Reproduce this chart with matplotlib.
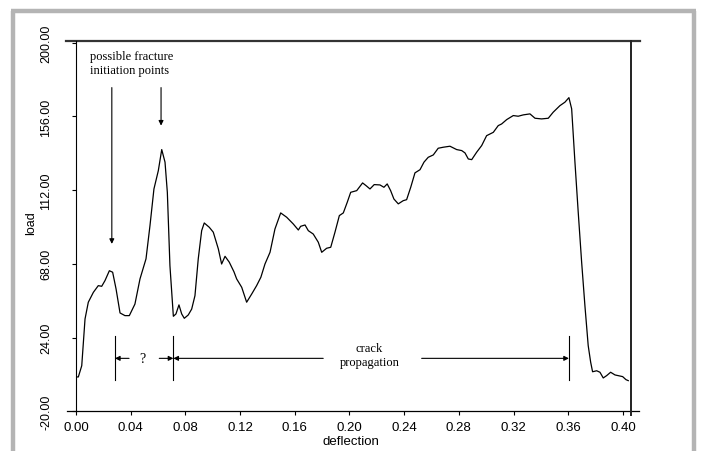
import matplotlib
matplotlib.use("Agg")
import matplotlib.pyplot as plt
from matplotlib.lines import Line2D

# --- digitised load / deflection trace ---------------------------------
defl = [0.0000, 0.0017, 0.0042, 0.0066, 0.0090, 0.0127, 0.0163, 0.0188, 0.0212, 0.0244,
        0.0268, 0.0293, 0.0322, 0.0358, 0.0390, 0.0431, 0.0468, 0.0512, 0.0541, 0.0570,
        0.0602, 0.0627, 0.0651, 0.0668, 0.0687, 0.0712, 0.0731, 0.0753, 0.0773, 0.0792,
        0.0821, 0.0846, 0.0870, 0.0894, 0.0919, 0.0938, 0.0975, 0.1004, 0.1041, 0.1065,
        0.1090, 0.1121, 0.1155, 0.1175, 0.1212, 0.1248, 0.1285, 0.1321, 0.1352, 0.1382,
        0.1419, 0.1455, 0.1497, 0.1541, 0.1589, 0.1626, 0.1643, 0.1675, 0.1699, 0.1735,
        0.1772, 0.1797, 0.1833, 0.1863, 0.1894, 0.1926, 0.1955, 0.1984, 0.2009, 0.2053,
        0.2096, 0.2121, 0.2150, 0.2181, 0.2223, 0.2252, 0.2276, 0.2301, 0.2325, 0.2357,
        0.2393, 0.2418, 0.2448, 0.2479, 0.2516, 0.2545, 0.2576, 0.2613, 0.2649, 0.2686,
        0.2735, 0.2784, 0.2821, 0.2845, 0.2869, 0.2894, 0.2930, 0.2967, 0.3003, 0.3052,
        0.3088, 0.3113, 0.3150, 0.3198, 0.3234, 0.3271, 0.3320, 0.3357, 0.3405, 0.3454,
        0.3490, 0.3539, 0.3576, 0.3605, 0.3625, 0.3649, 0.3673, 0.3698, 0.3722, 0.3746,
        0.3764, 0.3778, 0.3808, 0.3832, 0.3856, 0.3881, 0.3910, 0.3942, 0.3966, 0.3998,
        0.4022, 0.4039]
load = [0.5, 0.5, 7.2, 35.1, 45.1, 51.0, 55.0, 54.6, 58.0, 63.9,
        63.0, 53.0, 38.7, 37.1, 37.1, 44.0, 59.0, 71.0, 90.8, 112.7,
        123.6, 136.2, 128.7, 110.7, 66.9, 36.7, 38.1, 43.5, 38.1, 35.5,
        37.5, 41.0, 49.0, 70.9, 87.8, 92.4, 89.8, 86.9, 76.9, 67.9,
        72.5, 69.0, 63.3, 59.0, 54.0, 45.1, 50.0, 55.0, 60.0, 67.9,
        74.9, 88.8, 98.4, 95.8, 91.8, 88.2, 90.4, 91.2, 87.8, 85.8,
        80.9, 74.9, 77.3, 77.9, 86.9, 96.8, 98.4, 104.8, 110.7, 111.7,
        116.3, 114.7, 112.7, 115.3, 115.1, 113.7, 115.7, 111.7, 106.7, 103.8,
        105.7, 106.3, 113.7, 122.3, 124.2, 128.7, 131.6, 133.0, 137.0, 137.6,
        138.2, 136.2, 135.6, 134.2, 130.6, 130.2, 134.6, 138.6, 144.5, 146.5,
        150.5, 151.5, 154.1, 156.5, 156.1, 156.9, 157.5, 154.9, 154.5, 154.9,
        158.5, 162.4, 164.5, 167.2, 160.5, 128.7, 98.8, 69.0, 43.0, 19.2,
        9.3, 3.6, 4.2, 3.3, -0.1, 1.3, 3.3, 1.7, 1.3, 0.7,
        -1.1, -1.7]

xticks = [0.00, 0.04, 0.08, 0.12, 0.16, 0.20, 0.24, 0.28, 0.32, 0.36, 0.40]
yticks = [-20, 24, 68, 112, 156, 200]

# annotation positions (deflection / load units)
init_x = [0.0262, 0.0622]        # the two "possible fracture" arrows
init_tip = [79.9, 150.5]
init_top = 173.2
marks_x = [0.0285, 0.0712, 0.3605]   # dimension ticks
dim_y = 11.6

SANS = "Liberation Sans"
SERIF = "Liberation Serif"

fig = plt.figure(figsize=(7.02, 4.52), dpi=100)
ax = fig.add_axes([76 / 702, 1 - 412.3 / 452, 555 / 702, 370.3 / 452])

ax.plot(defl, load, color="black", lw=0.9)

ax.set_xlim(0, 0.4059)
ax.set_ylim(-20, 201)
ax.set_xticks(xticks)
ax.set_xticklabels([f"{v:.2f}" for v in xticks], family=SANS, fontsize=9.5)
ax.set_yticks(yticks)
ax.set_yticklabels([f"{v:.2f}" for v in yticks], family=SANS, fontsize=9,
                   rotation=90, va="center")
ax.tick_params(axis="x", length=3, width=0.8, pad=4)
ax.tick_params(axis="y", length=3, width=0.8, pad=14)

ax.set_xlabel("deflection", family=SANS, fontsize=9.5, va="center")
ax.xaxis.set_label_coords(0.495, -0.079)
ax.set_ylabel("load", family=SANS, fontsize=9, va="center")
ax.yaxis.set_label_coords(-0.08, 0.51)

# old-style frame: top/bottom lines overshoot the plot box
for s in ["top", "right", "bottom"]:
    ax.spines[s].set_visible(False)
ax.spines["left"].set_linewidth(0.8)
ax.add_line(Line2D([-0.018, 1.016], [1, 1], transform=ax.transAxes, color="#333333",
                   lw=1.6, clip_on=False))
ax.add_line(Line2D([-0.017, 1.015], [0, 0], transform=ax.transAxes, color="black",
                   lw=0.9, clip_on=False))
ax.add_line(Line2D([1, 1], [1, -0.01], transform=ax.transAxes, color="#222222",
                   lw=1.4, clip_on=False))

# --- annotations --------------------------------------------------------
ax.text(0.0102, 188, "possible fracture\ninitiation points", family=SERIF,
        fontsize=9, ha="left", va="center", linespacing=1.25)
arrow = dict(arrowstyle="-|>", color="black", lw=0.8, mutation_scale=7,
             shrinkA=0, shrinkB=0)
for xx, tip in zip(init_x, init_tip):
    ax.annotate("", xy=(xx, tip), xytext=(xx, init_top), arrowprops=arrow)

for xx in marks_x:
    ax.plot([xx, xx], [25, -1.5], color="black", lw=0.8)

ax.annotate("", xy=(marks_x[0], dim_y), xytext=(0.0388, dim_y), arrowprops=arrow)
ax.annotate("", xy=(marks_x[1], dim_y), xytext=(0.0609, dim_y), arrowprops=arrow)
ax.annotate("", xy=(marks_x[1], dim_y), xytext=(0.1808, dim_y), arrowprops=arrow)
ax.annotate("", xy=(marks_x[2], dim_y), xytext=(0.2528, dim_y), arrowprops=arrow)
ax.text(0.0485, dim_y, "?", family=SERIF, fontsize=10, ha="center", va="center")
ax.text(0.2146, 13.7, "crack\npropagation", family=SERIF, fontsize=9,
        ha="center", va="center", linespacing=1.25)

# grey hatched border of the scanned figure
border = dict(color="#b4b4b4", lw=3.2, solid_capstyle="butt", transform=fig.transFigure)
fig.add_artist(Line2D([12.5 / 702, 12.5 / 702], [0, 1 - 12 / 452], **border))
fig.add_artist(Line2D([11 / 702, 695.5 / 702], [1 - 12 / 452, 1 - 12 / 452], **border))
fig.add_artist(Line2D([694 / 702, 694 / 702], [0, 1 - 12 / 452], **border))

fig.savefig("out.png", dpi=100)
